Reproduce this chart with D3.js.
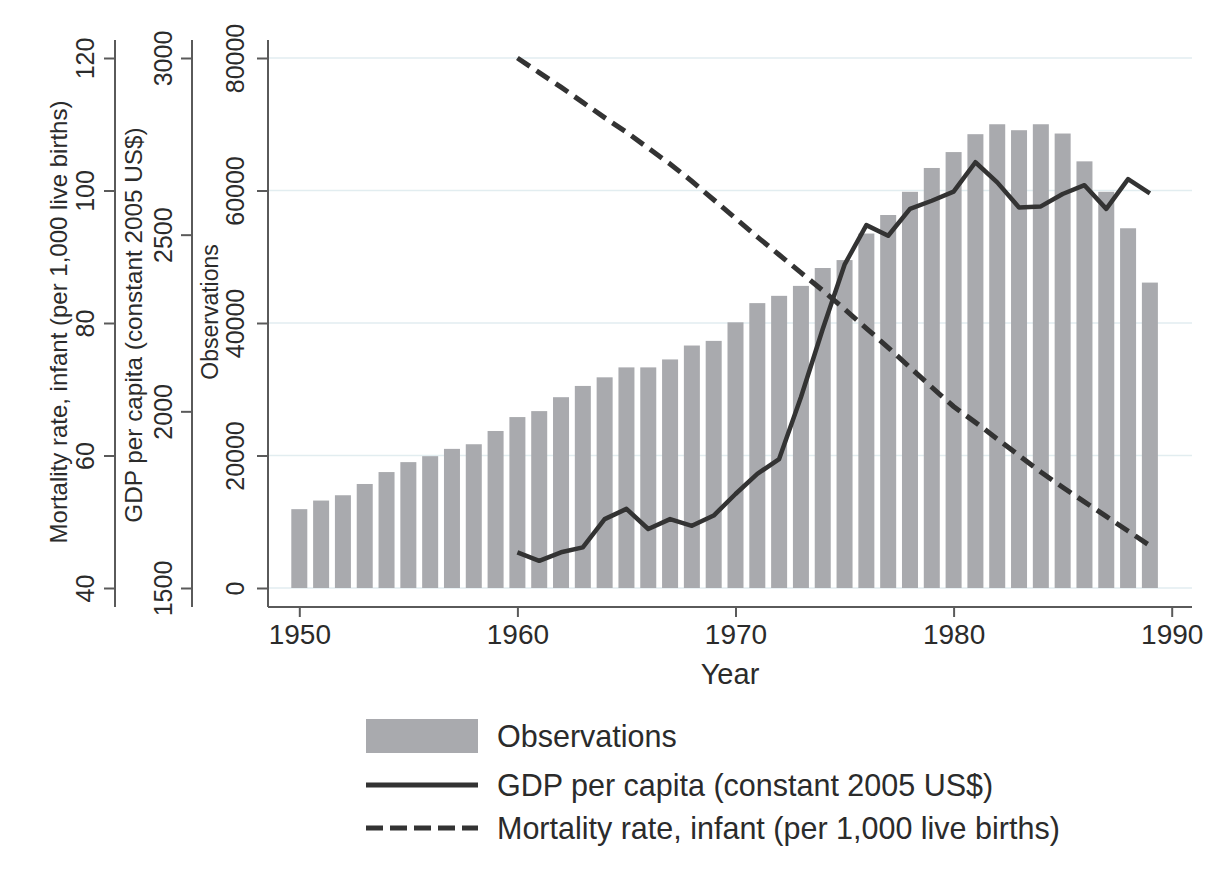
<!DOCTYPE html>
<html>
<head>
<meta charset="utf-8">
<script src="https://cdn.jsdelivr.net/npm/d3@7"></script>
<style>
  html, body { margin: 0; padding: 0; background: #fff; }
  svg { display: block; }
  text { font-family: "Liberation Sans", Arial, Helvetica, sans-serif; fill: #2b2b2b; }
</style>
</head>
<body>
<svg id="chart" width="1216" height="883"></svg>
<script>
// ---- data ----
const years = d3.range(1950, 1990);
const observations = [
  11900, 13200, 14000, 15700, 17500, 19000, 19900, 21000, 21700, 23700,
  25800, 26700, 28800, 30500, 31800, 33300, 33300, 34500, 36600, 37300,
  40100, 43000, 44100, 45600, 48300, 49500, 53500, 56300, 59800, 63400,
  65800, 68500, 70000, 69100, 70000, 68600, 64400, 59800, 54300, 46100
];
const gdpYears = d3.range(1960, 1990);
const gdp = [
  1601, 1577, 1601, 1615, 1695, 1724, 1667, 1695, 1676, 1705,
  1766, 1823, 1865, 2040, 2233, 2415, 2527, 2497, 2573, 2596,
  2622, 2705, 2648, 2577, 2580, 2615, 2640, 2573, 2657, 2617
];
const mortYears = d3.range(1960, 1990);
const mortality = [
  120.0, 117.8, 115.6, 113.3, 111.0, 108.8, 106.4, 104.0, 101.4, 98.6,
  95.8, 93.0, 90.3, 87.6, 84.9, 82.1, 79.2, 76.3, 73.3, 70.3,
  67.4, 65.0, 62.5, 60.0, 57.5, 55.2, 53.0, 50.8, 48.6, 46.4
];
const xTicks = [1950, 1960, 1970, 1980, 1990];
const obsTicks = [0, 20000, 40000, 60000, 80000];
const gdpTicks = [1500, 2000, 2500, 3000];
const mortTicks = [40, 60, 80, 100, 120];
const legendLabels = ["Observations", "GDP per capita (constant 2005 US$)", "Mortality rate, infant (per 1,000 live births)"];

// ---- layout ----
const svg = d3.select("#chart");
const yTop = 58, yBot = 588, axisTop = 40, axisBot = 607;
const xLeft = 268, xRight = 1192;
const axisColor = "#5a5a5a";
const barColor = "#a9aaae";
const lineColor = "#333333";

const x = d3.scaleLinear().domain([1950, 1990]).range([299.3, 1171.7]);
const yObs = d3.scaleLinear().domain([0, 80000]).range([yBot, yTop]);
const yGdp = d3.scaleLinear().domain([1500, 3000]).range([yBot, yTop]);
const yMort = d3.scaleLinear().domain([40, 120]).range([yBot, yTop]);

// gridlines
svg.append("g").selectAll("line").data(obsTicks).join("line")
  .attr("x1", xLeft).attr("x2", xRight)
  .attr("y1", d => yObs(d)).attr("y2", d => yObs(d))
  .attr("stroke", "#e2edf0").attr("stroke-width", 1.5);

// bars
const barW = 16;
svg.append("g").selectAll("rect").data(years).join("rect")
  .attr("x", (d) => x(d) - barW / 2)
  .attr("width", barW)
  .attr("y", (d, i) => yObs(observations[i]))
  .attr("height", (d, i) => yObs(0) - yObs(observations[i]))
  .attr("fill", barColor);

// lines
const gdpLine = d3.line().x((d, i) => x(gdpYears[i])).y(d => yGdp(d));
svg.append("path").datum(gdp).attr("d", gdpLine)
  .attr("fill", "none").attr("stroke", lineColor).attr("stroke-width", 4.5)
  .attr("stroke-linejoin", "round");

const mortLine = d3.line().x((d, i) => x(mortYears[i])).y(d => yMort(d));
svg.append("path").datum(mortality).attr("d", mortLine)
  .attr("fill", "none").attr("stroke", lineColor).attr("stroke-width", 5)
  .attr("stroke-dasharray", "15,8");

// y axes
function yAxis(scale, ticks, ax, labelOff, title, titleX, titleY, titleSize) {
  const g = svg.append("g").attr("transform", `translate(${ax},0)`);
  g.call(d3.axisLeft(scale).tickValues(ticks).tickSize(11).tickFormat(d3.format("d")));
  g.select(".domain").remove();
  g.selectAll(".tick line").attr("stroke", axisColor).attr("stroke-width", 2);
  g.selectAll(".tick text")
    .attr("dy", null)
    .attr("transform", "rotate(-90)")
    .attr("x", 0).attr("y", -labelOff)
    .attr("text-anchor", "middle")
    .attr("dominant-baseline", "central")
    .style("font-size", "25px")
    .style("font-family", "'Liberation Sans', Arial, sans-serif")
    .attr("fill", "#2b2b2b");
  g.append("line").attr("x1", 0).attr("x2", 0).attr("y1", axisTop).attr("y2", axisBot)
    .attr("stroke", axisColor).attr("stroke-width", 2);
  svg.append("text")
    .attr("transform", `translate(${titleX},${titleY}) rotate(-90)`)
    .attr("text-anchor", "middle").attr("dominant-baseline", "central")
    .style("font-size", titleSize + "px")
    .text(title);
}
yAxis(yMort, mortTicks, 115, 30, "Mortality rate, infant (per 1,000 live births)", 58, 322, 24);
yAxis(yGdp, gdpTicks, 192, 29, "GDP per capita (constant 2005 US$)", 133, 325, 24.3);
yAxis(yObs, obsTicks, 268, 33, "Observations", 210, 312, 23);

// x axis
const gx = svg.append("g").attr("transform", `translate(0,${axisBot})`);
gx.call(d3.axisBottom(x).tickValues(xTicks).tickSize(10).tickPadding(7).tickFormat(d3.format("d")));
gx.select(".domain").remove();
gx.selectAll(".tick line").attr("stroke", axisColor).attr("stroke-width", 2);
gx.selectAll(".tick text").style("font-size", "28px")
  .style("font-family", "'Liberation Sans', Arial, sans-serif").attr("fill", "#2b2b2b");
gx.append("line").attr("x1", xLeft).attr("x2", xRight).attr("y1", 0).attr("y2", 0)
  .attr("stroke", axisColor).attr("stroke-width", 2);
svg.append("text").attr("x", 730).attr("y", 674)
  .attr("text-anchor", "middle").attr("dominant-baseline", "central")
  .style("font-size", "29px").text("Year");

// legend
const lg = svg.append("g");
const lx = 366, lw = 112, tx = 497;
const rows = [736, 785, 828];
lg.append("rect").attr("x", lx).attr("y", rows[0] - 17).attr("width", lw).attr("height", 34).attr("fill", barColor);
lg.append("line").attr("x1", lx).attr("x2", lx + lw).attr("y1", rows[1]).attr("y2", rows[1])
  .attr("stroke", lineColor).attr("stroke-width", 5);
lg.append("line").attr("x1", lx).attr("x2", lx + lw).attr("y1", rows[2]).attr("y2", rows[2])
  .attr("stroke", lineColor).attr("stroke-width", 5).attr("stroke-dasharray", "17,7");
lg.selectAll("text").data(legendLabels).join("text")
  .attr("x", tx).attr("y", (d, i) => rows[i])
  .attr("dominant-baseline", "central")
  .style("font-size", "30.5px")
  .text(d => d);
</script>
</body>
</html>
